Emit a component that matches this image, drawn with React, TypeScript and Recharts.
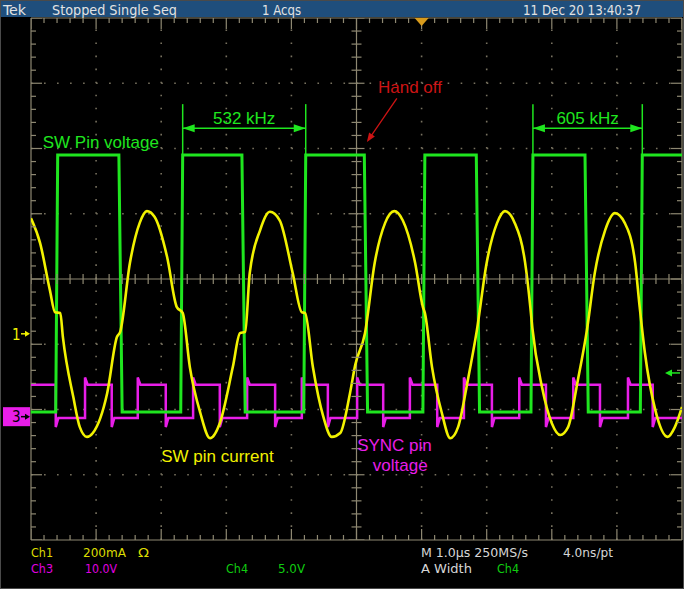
import React from "react";
import {
  ComposedChart,
  Line,
  XAxis,
  YAxis,
  ReferenceLine,
  ReferenceDot,
  Scatter,
} from "recharts";

// Scope screen: 10 div x 1.0 us, 8 vertical div. Values below are in us / divisions.

// Ch1 – SW pin current (yellow)
const CURRENT_T_US = [
  0, 0.14, 0.29, 0.37, 0.45, 0.49, 0.65, 0.75, 0.86, 0.95, 1.17, 1.32, 1.37, 1.52, 1.67, 1.78,
  1.9, 2.09, 2.24, 2.33, 2.44, 2.6, 2.75, 2.9, 3.1, 3.21, 3.29, 3.36, 3.52, 3.67, 3.82, 4.02,
  4.16, 4.21, 4.33, 4.49, 4.62, 4.75, 4.9, 4.98, 5.13, 5.28, 5.44, 5.58, 5.71, 5.9, 6.02, 6.05,
  6.16, 6.31, 6.44, 6.56, 6.71, 6.85, 7.0, 7.16, 7.28, 7.43, 7.59, 7.67, 7.7, 7.85, 8.0, 8.13,
  8.25, 8.4, 8.54, 8.66, 8.82, 8.97, 9.12, 9.28, 9.35, 9.43, 9.59, 9.78, 9.89, 10.0,
];
const CURRENT_DIV = [
  0.93, 0.55, -0.17, -0.51, -0.52, -0.89, -1.81, -2.27, -2.42, -2.36, -1.75, -0.89, -0.81, 0.25,
  0.86, 1.04, 0.95, 0.34, -0.43, -0.52, -1.35, -2.05, -2.44, -2.21, -1.35, -0.83, -0.81, 0.09,
  0.75, 1.03, 0.9, 0.09, -0.51, -0.52, -1.35, -2.11, -2.42, -2.36, -1.75, -1.32, -0.83, 0.25,
  0.86, 1.04, 0.9, 0.25, -0.43, -0.52, -1.35, -2.05, -2.44, -2.27, -1.55, -0.78, 0.25, 0.86, 1.04,
  0.86, 0.25, -0.43, -0.74, -1.66, -2.21, -2.39, -2.27, -1.55, -0.78, 0.09, 0.75, 1.01, 0.86, 0.25,
  -0.43, -1.13, -2.01, -2.42, -2.27, -1.96,
];

// Ch4 – SW pin voltage (green)
const SW_RISE_US = [0.41, 2.33, 4.22, 6.05, 7.71, 9.39];
const SW_FALL_US = [1.35, 3.24, 5.12, 6.84, 8.51];
const SW_HIGH_DIV = 1.9;
const SW_LOW_DIV = -2.04;

// Ch3 – SYNC pin voltage (magenta), starts high, toggles at each edge
const SYNC_EDGES_US = [
  0.38, 0.83, 1.24, 1.64, 2.07, 2.49, 2.9, 3.32, 3.75, 4.16, 4.56, 5.01, 5.41, 5.82, 6.24, 6.65,
  7.08, 7.5, 7.91, 8.33, 8.74, 9.17, 9.55,
];
const SYNC_HIGH_DIV = -1.62;
const SYNC_LOW_DIV = -2.13;

const FREQ_MARKS = [
  { label: "532 kHz", from: 2.33, to: 4.22 },
  { label: "605 kHz", from: 7.71, to: 9.39 },
];

const YELLOW = "#f2f200";
const GREEN = "#1fe61f";
const MAGENTA = "#e81ee8";
const RED = "#cc1414";
const GRID = "#8e8872";
const DOTS = "#77715f";

const currentData = CURRENT_T_US.map((t, i) => ({ t, v: CURRENT_DIV[i] }));

const swData = (() => {
  const ev = [
    ...SW_RISE_US.map((t) => ({ t, up: true })),
    ...SW_FALL_US.map((t) => ({ t, up: false })),
  ].sort((a, b) => a.t - b.t);
  const pts = [{ t: 0, v: SW_LOW_DIV }];
  let lvl = SW_LOW_DIV;
  ev.forEach((e) => {
    if (e.up) {
      pts.push({ t: e.t - 0.03, v: SW_LOW_DIV }, { t: e.t, v: SW_HIGH_DIV });
      lvl = SW_HIGH_DIV;
    } else {
      pts.push({ t: e.t, v: SW_HIGH_DIV }, { t: e.t + 0.05, v: SW_LOW_DIV });
      lvl = SW_LOW_DIV;
    }
  });
  pts.push({ t: 10, v: lvl });
  return pts;
})();

const syncData = (() => {
  let high = true;
  const pts = [{ t: 0, v: SYNC_HIGH_DIV }];
  SYNC_EDGES_US.forEach((t) => {
    const cur = high ? SYNC_HIGH_DIV : SYNC_LOW_DIV;
    const next = high ? SYNC_LOW_DIV : SYNC_HIGH_DIV;
    const over = high ? -0.14 : 0.11;
    pts.push({ t, v: cur }, { t, v: next + over }, { t: t + 0.04, v: next });
    high = !high;
  });
  pts.push({ t: 10, v: high ? SYNC_HIGH_DIV : SYNC_LOW_DIV });
  return pts;
})();

// graticule ticks
const TICKS: { t: number; v: number; side: string; major: boolean }[] = [];
for (let i = 0; i <= 50; i++) {
  const t = i / 5;
  const major = i % 5 === 0;
  TICKS.push({ t, v: 4, side: "top", major }, { t, v: -4, side: "bottom", major }, { t, v: 0, side: "hc", major });
}
for (let j = 0; j <= 40; j++) {
  const v = -4 + j / 5;
  const major = j % 5 === 0;
  TICKS.push({ t: 0, v, side: "left", major }, { t: 10, v, side: "right", major }, { t: 5, v, side: "vc", major });
}

const tickShape = (p: any) => {
  const { cx, cy, payload } = p;
  const len = payload.major ? 11 : 5;
  const half = payload.major ? 8 : 5;
  let d = { x1: cx, y1: cy, x2: cx, y2: cy };
  if (payload.side === "top") d = { x1: cx, y1: cy, x2: cx, y2: cy + len };
  if (payload.side === "bottom") d = { x1: cx, y1: cy, x2: cx, y2: cy - len };
  if (payload.side === "left") d = { x1: cx, y1: cy, x2: cx + len, y2: cy };
  if (payload.side === "right") d = { x1: cx, y1: cy, x2: cx - len, y2: cy };
  if (payload.side === "hc") d = { x1: cx, y1: cy - 5, x2: cx, y2: cy + 5 };
  if (payload.side === "vc") d = { x1: cx - half, y1: cy, x2: cx + half, y2: cy };
  return <line {...d} stroke={GRID} strokeWidth={1.2} />;
};

const LABEL_FONT = "'Liberation Sans', Arial, sans-serif";
const SCOPE_FONT = "'Liberation Sans Narrow', 'Arial Narrow', 'DejaVu Sans Condensed', sans-serif";

const textAt = (text: string, color: string, anchor: "start" | "middle" = "start") => (p: any) => (
  <text x={p.cx} y={p.cy} fill={color} fontSize={17} fontFamily={LABEL_FONT} textAnchor={anchor}>
    {text}
  </text>
);

const HEADER = [
  { text: "Tek", x: 3, w: 23 },
  { text: "Stopped  Single Seq", x: 52, w: 125 },
  { text: "1 Acqs", x: 262, w: 39 },
  { text: "11 Dec 20 13:40:37", x: 523, w: 118 },
];

const FOOTER = [
  { text: "Ch1", x: 31, y: 557, w: 22, c: "#dcdc00" },
  { text: "200mA", x: 83, y: 557, w: 43, c: "#dcdc00" },
  { text: "Ω", x: 138, y: 557, w: 11, c: "#dcdc00" },
  { text: "M 1.0µs 250MS/s", x: 421, y: 557, w: 107, c: "#d6d6d6" },
  { text: "4.0ns/pt", x: 563, y: 557, w: 50, c: "#d6d6d6" },
  { text: "Ch3", x: 31, y: 573, w: 22, c: "#e000e0" },
  { text: "10.0V", x: 85, y: 573, w: 32, c: "#e000e0" },
  { text: "Ch4", x: 226, y: 573, w: 22, c: "#10cc10" },
  { text: "5.0V", x: 278, y: 573, w: 27, c: "#10cc10" },
  { text: "A  Width", x: 421, y: 573, w: 51, c: "#d6d6d6" },
  { text: "Ch4", x: 497, y: 573, w: 22, c: "#10cc10" },
];

export default function App() {
  return (
    <div style={{ position: "fixed", left: 0, top: 0, width: 684, height: 589, background: "#000" }}>
      <ComposedChart width={684} height={589} margin={{ top: 18, left: 31, right: 2, bottom: 49 }}>
        <XAxis type="number" dataKey="t" domain={[0, 10]} allowDataOverflow hide />
        <YAxis type="number" domain={[-4, 4]} allowDataOverflow hide />

        {[1, 2, 3, 4, 6, 7, 8, 9].map((x) => (
          <ReferenceLine key={"gx" + x} x={x} stroke={DOTS} strokeWidth={1.6} strokeDasharray="1.6 11.45" />
        ))}
        {[-3, -2, -1, 1, 2, 3].map((y) => (
          <ReferenceLine key={"gy" + y} y={y} stroke={DOTS} strokeWidth={1.6} strokeDasharray="1.6 11.42" />
        ))}
        <ReferenceLine x={5} stroke={GRID} strokeWidth={1.2} />
        <ReferenceLine y={0} stroke={GRID} strokeWidth={1.2} />
        <ReferenceLine x={0} stroke={GRID} strokeWidth={1.2} />
        <ReferenceLine x={10} stroke={GRID} strokeWidth={1.2} />
        <ReferenceLine y={4} stroke={GRID} strokeWidth={1.2} />
        <ReferenceLine y={-4} stroke={GRID} strokeWidth={1.2} />
        <Scatter data={TICKS} dataKey="v" shape={tickShape} isAnimationActive={false} />

        <Line data={syncData} dataKey="v" type="linear" stroke={MAGENTA} strokeWidth={2.5} dot={false} isAnimationActive={false} />
        <Line data={swData} dataKey="v" type="linear" stroke={GREEN} strokeWidth={3} dot={false} isAnimationActive={false} />
        <Line data={currentData} dataKey="v" type="monotoneX" stroke={YELLOW} strokeWidth={2.6} dot={false} isAnimationActive={false} />

        {FREQ_MARKS.map((m) => (
          <React.Fragment key={m.label}>
            <ReferenceLine segment={[{ x: m.from, y: 2.68 }, { x: m.from, y: SW_HIGH_DIV }]} stroke={GREEN} strokeWidth={1.5} />
            <ReferenceLine segment={[{ x: m.to, y: 2.68 }, { x: m.to, y: SW_HIGH_DIV }]} stroke={GREEN} strokeWidth={1.5} />
            <ReferenceLine segment={[{ x: m.from, y: 2.31 }, { x: m.to, y: 2.31 }]} stroke={GREEN} strokeWidth={1.5} />
            <ReferenceDot x={m.from} y={2.31} shape={(p: any) => (
              <polygon points={`${p.cx},${p.cy} ${p.cx + 12},${p.cy - 4} ${p.cx + 12},${p.cy + 4}`} fill={GREEN} />
            )} />
            <ReferenceDot x={m.to} y={2.31} shape={(p: any) => (
              <polygon points={`${p.cx},${p.cy} ${p.cx - 12},${p.cy - 4} ${p.cx - 12},${p.cy + 4}`} fill={GREEN} />
            )} />
            <ReferenceDot x={(m.from + m.to) / 2} y={2.38} shape={textAt(m.label, GREEN, "middle")} />
          </React.Fragment>
        ))}

        <ReferenceDot x={0.18} y={2.01} shape={textAt("SW Pin voltage", GREEN)} />
        <ReferenceDot x={2.0} y={-2.8} shape={textAt("SW pin current", YELLOW)} />
        <ReferenceDot x={5.01} y={-2.64} shape={textAt("SYNC pin", MAGENTA)} />
        <ReferenceDot x={5.25} y={-2.94} shape={textAt("voltage", MAGENTA)} />
        <ReferenceDot x={5.33} y={2.85} shape={textAt("Hand off", RED)} />
        <ReferenceLine segment={[{ x: 5.62, y: 2.77 }, { x: 5.18, y: 2.13 }]} stroke={RED} strokeWidth={1.3} />
        <ReferenceDot x={5.16} y={2.1} shape={(p: any) => (
          <polygon points={`${p.cx},${p.cy} ${p.cx + 7.96},${p.cy - 5.46} ${p.cx + 2.18},${p.cy - 9.4}`} fill={RED} />
        )} />

        {/* trigger position */}
        <ReferenceDot x={6} y={4} shape={(p: any) => (
          <polygon points={`${p.cx - 7},${p.cy} ${p.cx + 7},${p.cy} ${p.cx},${p.cy + 8}`} fill="#d89b1c" />
        )} />

        {/* channel ground markers */}
        <ReferenceDot x={0} y={-0.84} shape={(p: any) => (
          <g>
            <text x={p.cx - 19} y={p.cy + 6} fill={YELLOW} fontSize={15} fontFamily={SCOPE_FONT}>1</text>
            <line x1={p.cx - 10} y1={p.cy} x2={p.cx - 5} y2={p.cy} stroke={YELLOW} strokeWidth={1.5} />
            <polygon points={`${p.cx - 1},${p.cy} ${p.cx - 6},${p.cy - 3} ${p.cx - 6},${p.cy + 3}`} fill={YELLOW} />
          </g>
        )} />
        <ReferenceDot x={0} y={-2.11} shape={(p: any) => (
          <g>
            <rect x={p.cx - 28} y={p.cy - 9.5} width={27} height={19} fill={MAGENTA} />
            <text x={p.cx - 19} y={p.cy + 5.5} fill="#000" fontSize={15} fontFamily={SCOPE_FONT}>3</text>
            <line x1={p.cx - 10} y1={p.cy} x2={p.cx - 5} y2={p.cy} stroke="#000" strokeWidth={1.5} />
            <polygon points={`${p.cx - 1},${p.cy} ${p.cx - 6},${p.cy - 3} ${p.cx - 6},${p.cy + 3}`} fill="#000" />
          </g>
        )} />
        <ReferenceDot x={10} y={-1.44} shape={(p: any) => (
          <g>
            <line x1={p.cx - 12} y1={p.cy} x2={p.cx - 2} y2={p.cy} stroke={GREEN} strokeWidth={1.5} />
            <polygon points={`${p.cx - 17},${p.cy} ${p.cx - 10},${p.cy - 3.5} ${p.cx - 10},${p.cy + 3.5}`} fill={GREEN} />
          </g>
        )} />
      </ComposedChart>

      <svg width={684} height={589} style={{ position: "absolute", left: 0, top: 0, pointerEvents: "none" }}>
        <rect x={0} y={0} width={684} height={17} fill="#1f4e7c" />
        {HEADER.map((h) => (
          <text key={h.text} x={h.x} y={15} fill="#e2e2e2" fontSize={14} fontFamily={SCOPE_FONT}
            textLength={h.w} lengthAdjust="spacingAndGlyphs">{h.text}</text>
        ))}
        {FOOTER.map((f) => (
          <text key={f.text + f.x} x={f.x} y={f.y} fill={f.c} fontSize={13} fontFamily={SCOPE_FONT}
            textLength={f.w} lengthAdjust="spacingAndGlyphs">{f.text}</text>
        ))}
        <rect x={0.5} y={0.5} width={683} height={588} fill="none" stroke="#4a4a4a" strokeWidth={1} />
      </svg>
    </div>
  );
}
